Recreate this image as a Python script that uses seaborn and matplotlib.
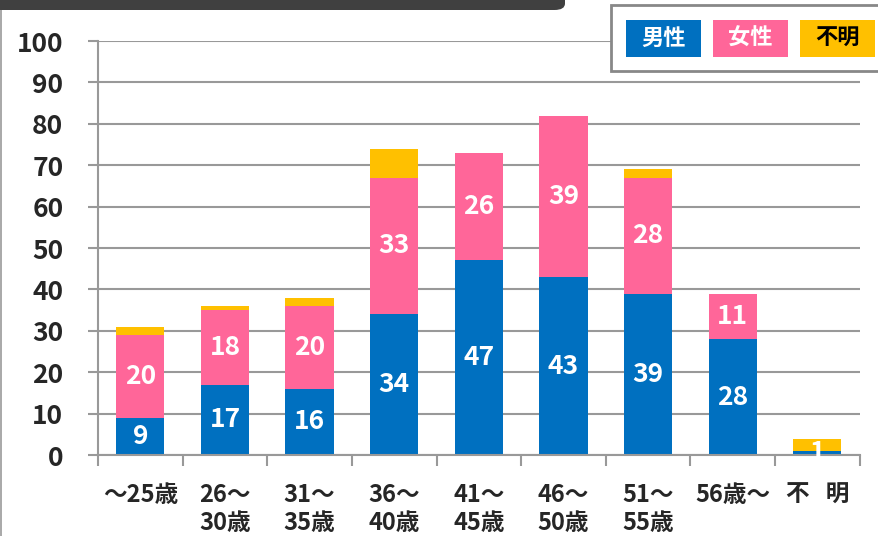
import matplotlib
matplotlib.use("Agg")
import matplotlib.pyplot as plt
from matplotlib.patches import Rectangle, FancyBboxPatch
import numpy as np
import pandas as pd
import seaborn as sns

### data
categories = ["～25歳", "26～\n30歳", "31～\n35歳", "36～\n40歳", "41～\n45歳",
              "46～\n50歳", "51～\n55歳", "56歳～", "不   明"]
male = [9, 17, 16, 34, 47, 43, 39, 28, 1]
female = [20, 18, 20, 33, 26, 39, 28, 11, 0]
unknown = [2, 1, 2, 7, 0, 0, 2, 0, 3]
series_names = ["男性", "女性", "不明"]
yticks = [0, 10, 20, 30, 40, 50, 60, 70, 80, 90, 100]

colors = ["#0070C0", "#FF6699", "#FFC000"]

sns.set_style("white")
plt.rcParams['font.family'] = ['Noto Sans CJK JP', 'DejaVu Sans']
plt.rcParams['font.weight'] = 'bold'

df = pd.DataFrame({"cat": categories, "male": male, "female": female, "unknown": unknown})
bottom_f = df["male"].values
bottom_u = (df["male"] + df["female"]).values

fig = plt.figure(figsize=(8.79, 5.36), dpi=100)
ax = fig.add_axes([0.1115, 0.151, 0.8665, 0.7725])

sns.barplot(data=df, x="cat", y="male", color=colors[0], saturation=1, width=0.57,
            linewidth=0, ax=ax)
sns.barplot(data=df, x="cat", y="female", bottom=bottom_f, color=colors[1], saturation=1,
            width=0.57, linewidth=0, ax=ax)
sns.barplot(data=df, x="cat", y="unknown", bottom=bottom_u, color=colors[2], saturation=1,
            width=0.57, linewidth=0, ax=ax)

# value labels (male, female)
for i in range(len(categories)):
    if male[i] > 0:
        ax.text(i, male[i] / 2, str(male[i]), ha="center", va="center",
                color="white", fontsize=19, fontweight="bold")
    if female[i] > 0:
        ax.text(i, male[i] + female[i] / 2, str(female[i]), ha="center", va="center",
                color="white", fontsize=19, fontweight="bold")

ax.set_ylim(0, 100)
ax.set_xlim(-0.5, len(categories) - 0.5)
ax.set_yticks(yticks)
ax.set_xlabel("")
ax.set_ylabel("")
ax.yaxis.grid(True, color="#999999", linewidth=1.5)
ax.set_axisbelow(True)

for s in ["top", "right"]:
    ax.spines[s].set_visible(False)
ax.spines["left"].set_color("#999999")
ax.spines["left"].set_linewidth(1.5)
ax.spines["bottom"].set_color("#999999")
ax.spines["bottom"].set_linewidth(1.5)

# x ticks at boundaries, labels at centers
ax.set_xticks(np.arange(-0.5, len(categories), 1.0))
ax.set_xticklabels([""] * (len(categories) + 1))
ax.set_xticks(np.arange(len(categories)), minor=True)
ax.set_xticklabels(categories, minor=True, fontsize=17, fontweight="bold",
                   linespacing=1.2, va="top")
ax.tick_params(axis="x", which="major", length=8, width=1.5, color="#999999", direction="out", bottom=True)
ax.tick_params(axis="x", which="minor", length=0, pad=20)
ax.tick_params(axis="y", length=7, width=1.5, color="#999999", direction="out", left=True,
               labelsize=19, pad=18)
for lab in ax.get_yticklabels():
    lab.set_fontweight("bold")

# dark header bar at the top
fig.patches.append(FancyBboxPatch((-10 / 879, 1 - 10 / 536), 575 / 879, 30 / 536,
                                  boxstyle="round,pad=0,rounding_size=0.012",
                                  transform=fig.transFigure, facecolor="#404040",
                                  edgecolor="none", zorder=5))
# left border line
fig.add_artist(plt.Line2D([1 / 879, 1 / 879], [0, 1 - 10 / 536], transform=fig.transFigure,
                          color="#999999", linewidth=1.2))

# legend box
fig.patches.append(Rectangle((611 / 879, 1 - 71 / 536), 270 / 879, 66 / 536,
                             transform=fig.transFigure, facecolor="white",
                             edgecolor="#888888", linewidth=2, zorder=5))
legend_x = [626, 713, 800]
text_colors = ["white", "white", "black"]
for k in range(3):
    fig.patches.append(Rectangle((legend_x[k] / 879, 1 - 57 / 536), 75 / 879, 37 / 536,
                                 transform=fig.transFigure, facecolor=colors[k],
                                 edgecolor="none", zorder=6))
    fig.text((legend_x[k] + 37.5) / 879, 1 - 38.5 / 536, series_names[k], ha="center",
             va="center", color=text_colors[k], fontsize=16, fontweight="bold", zorder=7)

fig.savefig("out.png", dpi=100)
